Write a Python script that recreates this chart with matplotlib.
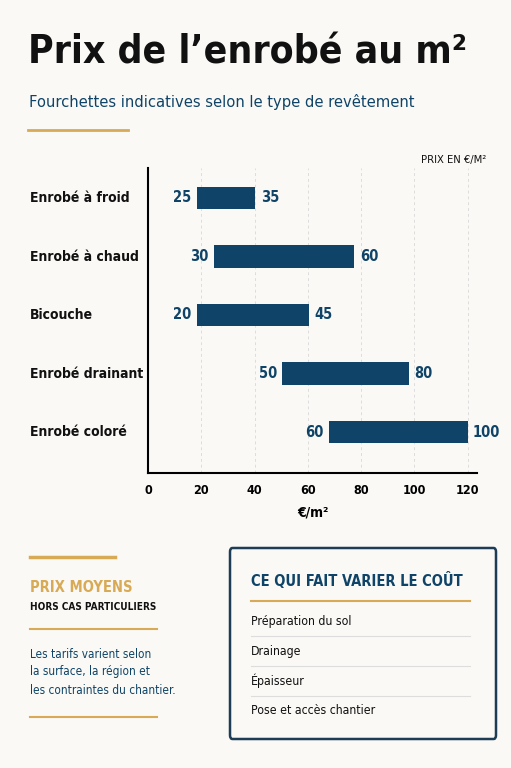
import matplotlib
matplotlib.use("Agg")
import matplotlib.pyplot as plt
from matplotlib.patches import FancyBboxPatch
from matplotlib.lines import Line2D

categories = ["Enrobé à froid", "Enrobé à chaud", "Bicouche", "Enrobé drainant", "Enrobé coloré"]
bar_start = [18.4, 24.8, 18.4, 50.4, 68.0]
bar_end = [40.3, 77.5, 60.4, 98.1, 120.0]
low_labels = ["25", "30", "20", "50", "60"]
high_labels = ["35", "60", "45", "80", "100"]
xticks = [0, 20, 40, 60, 80, 100, 120]
factors = ["Préparation du sol", "Drainage", "Épaisseur", "Pose et accès chantier"]

NAVY = "#0f4468"
GOLD = "#d8aa55"
BG = "#faf9f5"
plt.rcParams['font.family'] = ["DejaVu Sans"]
plt.rcParams['font.stretch'] = "condensed"

fig = plt.figure(figsize=(5.11, 7.68), dpi=100, facecolor=BG)
W, H = 511, 768
def fx(x): return x / W
def fy(y): return 1 - y / H

fig.text(fx(28), fy(52), "Prix de l’enrobé au m²", fontsize=28, fontweight="bold", color="#111111", va="center")
fig.text(fx(29), fy(102), "Fourchettes indicatives selon le type de revêtement", fontsize=11.8, color=NAVY, va="center")
def hline(x0, x1, y, c=GOLD, lw=2):
    fig.add_artist(Line2D([fx(x0), fx(x1)], [fy(y), fy(y)], color=c, lw=lw, transform=fig.transFigure))
hline(28, 128, 130)

ax = fig.add_axes([fx(148), fy(473), fx(477) - fx(148), fy(168) - fy(473)])
ax.set_facecolor(BG)
ys = list(range(len(categories)))
widths = [e - s for s, e in zip(bar_start, bar_end)]
ax.barh(ys, widths, left=bar_start, height=0.38, color=NAVY, zorder=3)
for y, s, e, lo, hi in zip(ys, bar_start, bar_end, low_labels, high_labels):
    ax.text(s - 2, y, lo, ha="right", va="center", fontsize=10.5, fontweight="bold", color=NAVY)
    ax.text(e + 2, y, hi, ha="left", va="center", fontsize=10.5, fontweight="bold", color=NAVY)
ax.set_xlim(0, 123.5)
ax.set_ylim(4.70, -0.51)
ax.set_yticks([])
ax.set_xticks(xticks)
ax.set_xticklabels([str(t) for t in xticks], fontsize=9, fontweight="bold")
ax.tick_params(axis="x", length=0, pad=8)
for t in xticks[1:]:
    ax.axvline(t, color="#dddddd", lw=0.7, ls=(0, (3, 3)), zorder=1)
for s in ["top", "right"]:
    ax.spines[s].set_visible(False)
ax.spines["left"].set_linewidth(1.5)
ax.spines["bottom"].set_linewidth(1.5)
ax.set_xlabel("€/m²", fontsize=10, fontweight="bold", labelpad=6)
for y, c in zip(ys, categories):
    fig.text(fx(30), fy(198 + y * 58.6), c, fontsize=10, fontweight="bold", color="#111111", va="center")
fig.text(fx(486), fy(160), "PRIX EN €/M²", fontsize=8, ha="right", va="center", color="#111111")

# bottom left
hline(30, 115, 557, lw=2.5)
fig.text(fx(30), fy(588), "PRIX MOYENS", fontsize=10.5, fontweight="bold", color=GOLD, va="center")
fig.text(fx(30), fy(607), "HORS CAS PARTICULIERS", fontsize=7.2, fontweight="bold", color="#111111", va="center")
hline(30, 157, 629, lw=1.5)
for i, l in enumerate(["Les tarifs varient selon", "la surface, la région et", "les contraintes du chantier."]):
    fig.text(fx(30), fy(654 + 18 * i), l, fontsize=8.5, color=NAVY, va="center")
hline(30, 157, 717, lw=1.5)

# box
box = FancyBboxPatch((fx(230), fy(739)), fx(496) - fx(230), fy(548) - fy(739),
                     boxstyle="round,pad=0,rounding_size=0.005", transform=fig.transFigure,
                     facecolor=BG, edgecolor="#1d3c56", lw=1.8)
fig.add_artist(box)
fig.text(fx(251), fy(580), "CE QUI FAIT VARIER LE COÛT", fontsize=10.5, fontweight="bold", color=NAVY, va="center")
hline(251, 470, 601, lw=1.5)
for i, f in enumerate(factors):
    fig.text(fx(251), fy(621 + 30 * i), f, fontsize=8.8, color="#111111", va="center")
    if i < len(factors) - 1:
        hline(251, 470, 636 + 30 * i, c="#dddddd", lw=0.8)

fig.savefig("out.png", dpi=100, facecolor=BG)
